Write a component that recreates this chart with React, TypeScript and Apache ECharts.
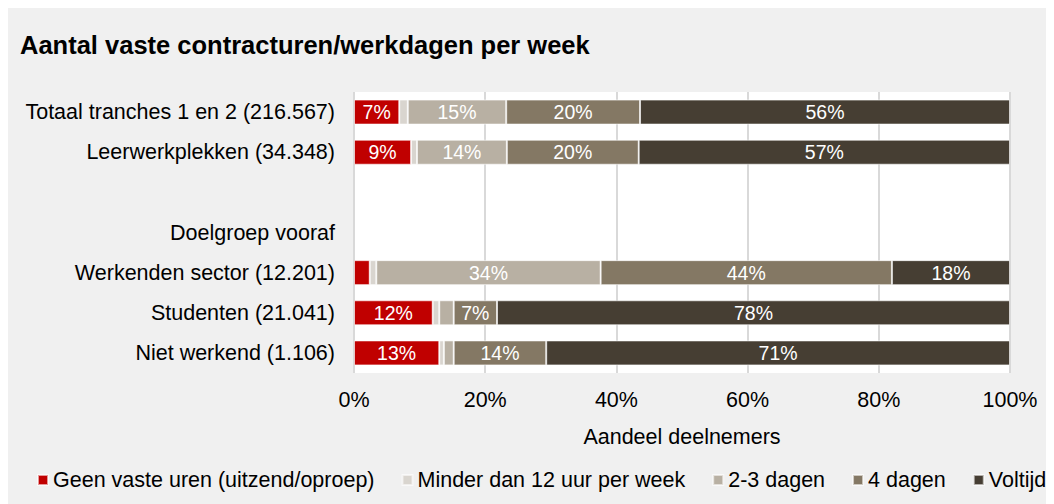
import React, { useEffect, useRef } from "react";
import * as echarts from "echarts";

const categories = [
  "Totaal tranches 1 en 2 (216.567)",
  "Leerwerkplekken (34.348)",
  "",
  "Doelgroep vooraf",
  "Werkenden sector (12.201)",
  "Studenten (21.041)",
  "Niet werkend (1.106)",
];

const seriesNames = [
  "Geen vaste uren (uitzend/oproep)",
  "Minder dan 12 uur per week",
  "2-3 dagen",
  "4 dagen",
  "Voltijd",
];

const geenVasteUren = [6.9, 8.7, null, null, 2.4, 12.0, 13.0];
const minderDan12 = [1.3, 0.9, null, null, 1.0, 1.0, 0.7];
const dagen23 = [15.0, 13.7, null, null, 34.2, 2.2, 1.5];
const dagen4 = [20.4, 20.1, null, null, 44.4, 6.6, 14.1];
const voltijd = [56.4, 56.6, null, null, 18.0, 78.2, 70.7];

const xTicks = [0, 20, 40, 60, 80, 100];

const colors = ["#c00000", "#d9d5cf", "#b8b0a3", "#847864", "#463e33"];

const FONT = "'Liberation Sans', Arial, Helvetica, sans-serif";

export default function App() {
  const ref = useRef<HTMLDivElement>(null);

  useEffect(() => {
    if (!ref.current) return;
    const chart = echarts.init(ref.current, undefined, { renderer: "svg" });
    const dataSets = [geenVasteUren, minderDan12, dagen23, dagen4, voltijd];
    const option = {
      animation: false,
      backgroundColor: "#f0f0f0",
      textStyle: { fontFamily: FONT },
      title: {
        text: "Aantal vaste contracturen/werkdagen per week",
        left: 7,
        top: 19,
        textStyle: { fontFamily: FONT, fontSize: 25.5, fontWeight: "bold", color: "#000" },
      },
      legend: {
        left: 24,
        bottom: 8,
        itemWidth: 10,
        itemHeight: 10,
        itemGap: 27,
        icon: "rect",
        textStyle: { fontFamily: FONT, fontSize: 21.5, color: "#000" },
        data: seriesNames,
      },
      grid: {
        left: 346,
        top: 84,
        width: 656,
        height: 281,
        show: true,
        backgroundColor: "#ffffff",
        borderWidth: 0,
      },
      xAxis: {
        type: "value",
        min: 0,
        max: 100,
        interval: 20,
        name: "Aandeel deelnemers",
        nameLocation: "middle",
        nameGap: 53,
        nameTextStyle: { fontFamily: FONT, fontSize: 21.5, color: "#000" },
        axisLine: { show: false },
        axisTick: { show: false },
        axisLabel: {
          fontFamily: FONT,
          fontSize: 21.5,
          color: "#000",
          margin: 16,
          formatter: (v: number) => (xTicks.includes(v) ? v + "%" : ""),
        },
        splitLine: { show: true, lineStyle: { color: "#d9d9d9", width: 2 } },
      },
      yAxis: {
        type: "category",
        inverse: true,
        data: categories,
        axisLine: { show: false },
        axisTick: { show: false },
        axisLabel: { fontFamily: FONT, fontSize: 21.5, color: "#000", margin: 19 },
      },
      series: seriesNames.map((name, i) => ({
        name,
        type: "bar",
        stack: "total",
        barWidth: 25,
        data: dataSets[i],
        itemStyle: { color: colors[i], borderColor: "rgba(255,255,255,0.6)", borderWidth: 1 },
        label: {
          show: true,
          position: "inside",
          color: "#fff",
          fontFamily: FONT,
          fontSize: 19.5,
          formatter: (p: any) => (p.value != null && p.value >= 5 ? Math.round(p.value) + "%" : ""),
        },
      })),
    };
    chart.setOption(option as any);
    return () => chart.dispose();
  }, []);

  return <div ref={ref} style={{ width: 1046, height: 496 }} />;
}
